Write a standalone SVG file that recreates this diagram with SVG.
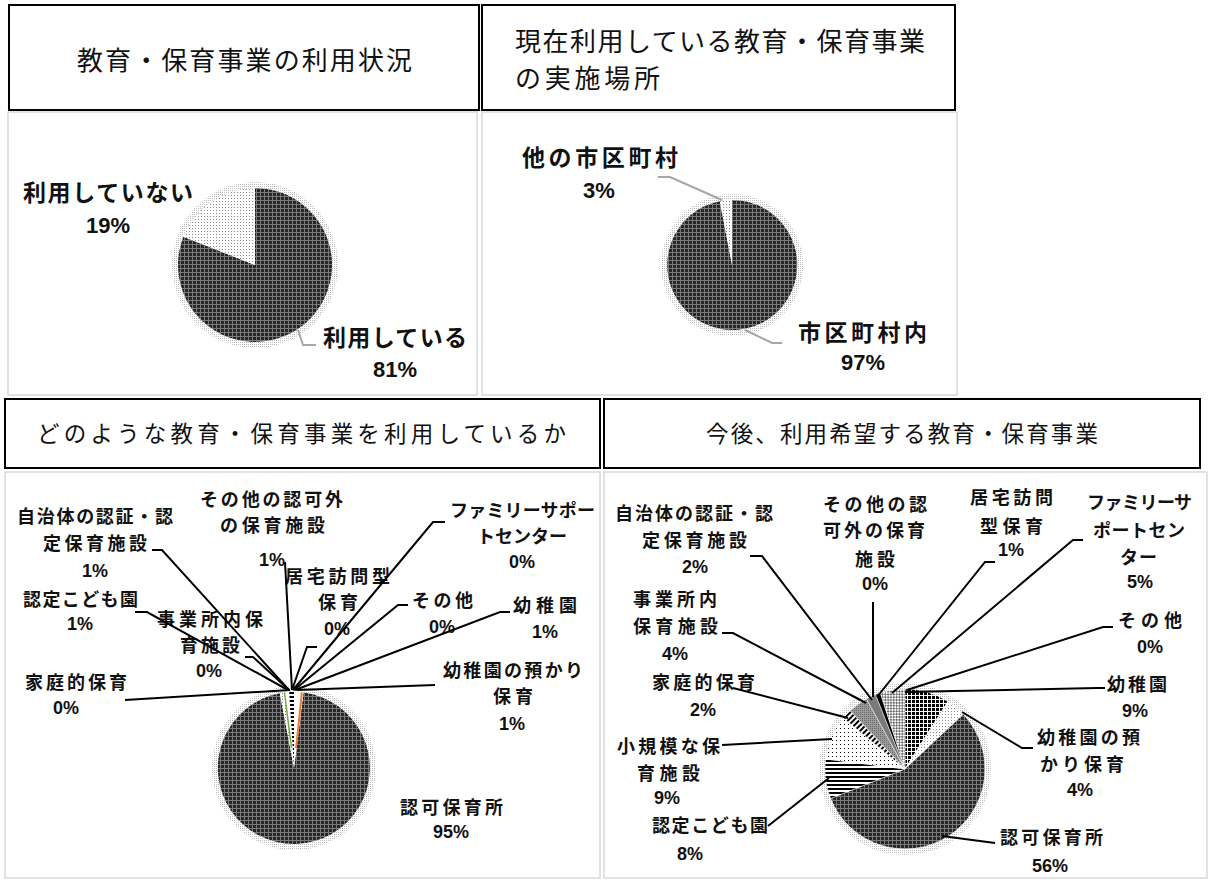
<svg xmlns="http://www.w3.org/2000/svg" width="1212" height="880" viewBox="0 0 1212 880">
<style>
.ttl{font-family:"Noto Sans CJK JP","Liberation Sans",sans-serif;font-size:26px;fill:#111}
.ttl2{font-family:"Noto Sans CJK JP","Liberation Sans",sans-serif;font-size:22.5px;fill:#111}
.lt{font-family:"Noto Sans CJK JP","Liberation Sans",sans-serif;font-size:23px;font-weight:bold;fill:#111}
.lb{font-family:"Noto Sans CJK JP","Liberation Sans",sans-serif;font-size:18px;font-weight:bold;fill:#111}
.pt{font-family:"Liberation Sans",sans-serif;font-size:22px;font-weight:bold;fill:#111;text-anchor:middle}
.pb{font-family:"Liberation Sans",sans-serif;font-size:18px;font-weight:bold;fill:#111;text-anchor:middle}
.tbox{fill:#fff;stroke:#000;stroke-width:2}
.cbox{fill:#fff;stroke:#d9d9d9;stroke-width:1.5}
.gl{fill:none;stroke:#a6a6a6;stroke-width:2}
.bl{fill:none;stroke:#000;stroke-width:2}
.sl{stroke:#fff;stroke-width:0.5}
</style>
<defs>
<pattern id="dk" width="4" height="4" patternUnits="userSpaceOnUse"><rect width="4" height="4" fill="#262626"/><rect width="4" height="1" fill="#7a7a7a"/><rect width="1" height="4" fill="#7a7a7a"/></pattern>
<pattern id="lt" width="3" height="3" patternUnits="userSpaceOnUse"><rect width="3" height="3" fill="#fff"/><rect width="1" height="1" fill="#8c8c8c"/></pattern>
<pattern id="halo" width="2" height="2" patternUnits="userSpaceOnUse"><rect width="1" height="1" fill="#bdbdbd"/></pattern>
<pattern id="chk" width="4" height="4" patternUnits="userSpaceOnUse"><rect width="4" height="4" fill="#fff"/><rect width="3" height="3" fill="#000"/></pattern>
<pattern id="hs" width="4" height="4" patternUnits="userSpaceOnUse"><rect width="4" height="4" fill="#fff"/><rect width="4" height="2" fill="#000"/></pattern>
<pattern id="sp" width="4" height="4" patternUnits="userSpaceOnUse"><rect width="4" height="4" fill="#fff"/><rect width="1" height="1" fill="#000"/></pattern>
<pattern id="dg" width="4" height="4" patternUnits="userSpaceOnUse" patternTransform="rotate(45)"><rect width="4" height="4" fill="#fff"/><rect width="2" height="4" fill="#000"/></pattern>
<pattern id="dm" width="4" height="4" patternUnits="userSpaceOnUse" patternTransform="rotate(45)"><rect width="4" height="4" fill="#fff"/><rect width="2" height="2" fill="#6e6e6e"/><rect x="2" y="2" width="2" height="2" fill="#6e6e6e"/></pattern>
<pattern id="gr" width="2" height="2" patternUnits="userSpaceOnUse"><rect width="2" height="2" fill="#9a9a9a"/><rect width="1" height="1" fill="#6a6a6a"/></pattern>
<pattern id="bwd" width="4" height="4" patternUnits="userSpaceOnUse"><rect width="4" height="4" fill="#fff"/><rect width="4" height="2" fill="#000"/></pattern>
</defs>

<!-- Panel 1 -->
<g id="panel1">
<rect class="cbox" x="8" y="112" width="469" height="283"/>
<rect class="tbox" x="9" y="5" width="470" height="105"/>
<text class="ttl" x="77" y="70" textLength="335" lengthAdjust="spacing">教育・保育事業の利用状況</text>
<circle cx="255" cy="265" r="83" fill="url(#halo)"/>
<path d="M255,265 L255,188 A77,77 0 1 1 183.4,236.7 Z" fill="url(#dk)"/>
<path d="M255,265 L183.4,236.7 A77,77 0 0 1 255,188 Z" fill="url(#lt)"/>
<text class="lt" x="23" y="201" textLength="170" lengthAdjust="spacing">利用していない</text>
<text class="pt" x="108" y="233">19%</text>
<text class="lt" x="323" y="346" textLength="144" lengthAdjust="spacing">利用している</text>
<text class="pt" x="395" y="377">81%</text>
</g>

<!-- Panel 2 -->
<g id="panel2">
<rect class="cbox" x="482" y="112" width="475" height="283"/>
<rect class="tbox" x="482" y="5" width="473" height="105"/>
<text class="ttl" x="515" y="51" textLength="410" lengthAdjust="spacing">現在利用している教育・保育事業</text>
<text class="ttl" x="515" y="88" textLength="145" lengthAdjust="spacing">の実施場所</text>
<circle cx="732" cy="265" r="71" fill="url(#halo)"/>
<path d="M732,265 L732,200 A65,65 0 1 1 719.8,201.2 Z" fill="url(#dk)"/>
<path d="M732,265 L719.8,201.2 A65,65 0 0 1 732,200 Z" fill="url(#lt)"/>
<text class="lt" x="522" y="166" textLength="156" lengthAdjust="spacing">他の市区町村</text>
<text class="pt" x="599" y="198">3%</text>
<text class="lt" x="798" y="341" textLength="129" lengthAdjust="spacing">市区町村内</text>
<text class="pt" x="863" y="370">97%</text>
</g>

<!-- Panel 3 -->
<g id="panel3">
<rect class="cbox" x="5" y="472" width="595" height="406"/>
<rect class="tbox" x="5" y="399" width="595" height="69"/>
<text class="ttl2" x="37" y="442" textLength="529" lengthAdjust="spacing">どのような教育・保育事業を利用しているか</text>
<circle cx="294" cy="768" r="82" fill="url(#halo)"/>
<path d="M294,768 L303.5,692.6 A76,76 0 1 1 279.8,693.3 Z" fill="url(#dk)"/>
<path d="M294,768 L279.8,693.3 A76,76 0 0 1 284.5,692.6 Z" fill="url(#lt)"/>
<path d="M294,768 L284.5,692.6 A76,76 0 0 1 289.2,692.1 Z" fill="#fff"/>
<path d="M294,768 L289.2,692.1 A76,76 0 0 1 294,692 Z" fill="url(#bwd)"/>
<path d="M294,768 L294,692 A76,76 0 0 1 303.5,692.6 Z" fill="#fff"/>
<line x1="284.5" y1="692.6" x2="291.5" y2="748" stroke="#70ad47" stroke-width="1.5"/>
<line x1="301.9" y1="692.4" x2="296.1" y2="748" stroke="#ed7d31" stroke-width="2"/>
</g>

<!-- Panel 4 -->
<g id="panel4">
<rect class="cbox" x="604" y="472" width="603" height="406"/>
<rect class="tbox" x="604" y="399" width="596" height="69"/>
<text class="ttl2" x="706" y="442" textLength="392" lengthAdjust="spacing">今後、利用希望する教育・保育事業</text>
<circle cx="905" cy="769" r="86" fill="url(#halo)"/>
<path class="sl" d="M905,769 L905,689 A80,80 0 0 1 947.9,701.5 Z" fill="url(#chk)"/>
<path class="sl" d="M905,769 L947.9,701.5 A80,80 0 0 1 963.3,714.2 Z" fill="url(#lt)"/>
<path class="sl" d="M905,769 L963.3,714.2 A80,80 0 1 1 830.6,798.4 Z" fill="url(#dk)"/>
<path class="sl" d="M905,769 L830.6,798.4 A80,80 0 0 1 825.6,759 Z" fill="url(#hs)"/>
<path class="sl" d="M905,769 L825.6,759 A80,80 0 0 1 843.4,718 Z" fill="url(#sp)"/>
<path class="sl" d="M905,769 L843.4,718 A80,80 0 0 1 850.2,710.7 Z" fill="url(#dg)"/>
<path class="sl" d="M905,769 L850.2,710.7 A80,80 0 0 1 866.5,698.9 Z" fill="url(#gr)"/>
<path class="sl" d="M905,769 L866.5,698.9 A80,80 0 0 1 875.6,694.6 Z" fill="#7a7a7a"/>
<path class="sl" d="M905,769 L875.6,694.6 A80,80 0 0 1 880.3,692.9 Z" fill="#000"/>
<path class="sl" d="M905,769 L880.3,692.9 A80,80 0 0 1 905,689 Z" fill="url(#dm)"/>
</g>

<!-- Labels panel 3 -->
<g id="labels3">
<text class="lb" x="17" y="523" textLength="156" lengthAdjust="spacing">自治体の認証・認</text>
<text class="lb" x="43" y="550" textLength="104" lengthAdjust="spacing">定保育施設</text>
<text class="pb" x="95" y="577">1%</text>
<text class="lb" x="200" y="506" textLength="143" lengthAdjust="spacing">その他の認可外</text>
<text class="lb" x="220" y="532" textLength="105" lengthAdjust="spacing">の保育施設</text>
<text class="pb" x="272" y="566">1%</text>
<text class="lb" x="450" y="517" textLength="145" lengthAdjust="spacing">ファミリーサポー</text>
<text class="lb" x="477" y="543" textLength="90" lengthAdjust="spacing">トセンター</text>
<text class="pb" x="522" y="568">0%</text>
<text class="lb" x="285" y="583" textLength="105" lengthAdjust="spacing">居宅訪問型</text>
<text class="lb" x="318" y="609" textLength="40" lengthAdjust="spacing">保育</text>
<text class="pb" x="337" y="635">0%</text>
<text class="lb" x="412" y="607" textLength="61" lengthAdjust="spacing">その他</text>
<text class="pb" x="442" y="633">0%</text>
<text class="lb" x="513" y="612" textLength="64" lengthAdjust="spacing">幼稚園</text>
<text class="pb" x="545" y="638">1%</text>
<text class="lb" x="23" y="606" textLength="115" lengthAdjust="spacing">認定こども園</text>
<text class="pb" x="80" y="630">1%</text>
<text class="lb" x="157" y="626" textLength="106" lengthAdjust="spacing">事業所内保</text>
<text class="lb" x="180" y="652" textLength="60" lengthAdjust="spacing">育施設</text>
<text class="pb" x="209" y="677">0%</text>
<text class="lb" x="25" y="689" textLength="102" lengthAdjust="spacing">家庭的保育</text>
<text class="pb" x="66" y="714">0%</text>
<text class="lb" x="443" y="677" textLength="140" lengthAdjust="spacing">幼稚園の預かり</text>
<text class="lb" x="493" y="703" textLength="40" lengthAdjust="spacing">保育</text>
<text class="pb" x="512" y="730">1%</text>
<text class="lb" x="400" y="814" textLength="103" lengthAdjust="spacing">認可保育所</text>
<text class="pb" x="451" y="838">95%</text>
</g>

<!-- Labels panel 4 -->
<g id="labels4">
<text class="lb" x="615" y="520" textLength="158" lengthAdjust="spacing">自治体の認証・認</text>
<text class="lb" x="642" y="547" textLength="105" lengthAdjust="spacing">定保育施設</text>
<text class="pb" x="695" y="573">2%</text>
<text class="lb" x="823" y="511" textLength="104" lengthAdjust="spacing">その他の認</text>
<text class="lb" x="823" y="537" textLength="102" lengthAdjust="spacing">可外の保育</text>
<text class="lb" x="855" y="566" textLength="40" lengthAdjust="spacing">施設</text>
<text class="pb" x="875" y="590">0%</text>
<text class="lb" x="970" y="504" textLength="83" lengthAdjust="spacing">居宅訪問</text>
<text class="lb" x="980" y="533" textLength="63" lengthAdjust="spacing">型保育</text>
<text class="pb" x="1011" y="556">1%</text>
<text class="lb" x="1087" y="509" textLength="105" lengthAdjust="spacing">ファミリーサ</text>
<text class="lb" x="1093" y="537" textLength="92" lengthAdjust="spacing">ポートセン</text>
<text class="lb" x="1120" y="564" textLength="37" lengthAdjust="spacing">ター</text>
<text class="pb" x="1140" y="588">5%</text>
<text class="lb" x="1118" y="627" textLength="64" lengthAdjust="spacing">その他</text>
<text class="pb" x="1150" y="653">0%</text>
<text class="lb" x="1107" y="691" textLength="60" lengthAdjust="spacing">幼稚園</text>
<text class="pb" x="1135" y="717">9%</text>
<text class="lb" x="633" y="606" textLength="84" lengthAdjust="spacing">事業所内</text>
<text class="lb" x="633" y="633" textLength="85" lengthAdjust="spacing">保育施設</text>
<text class="pb" x="675" y="660">4%</text>
<text class="lb" x="652" y="689" textLength="103" lengthAdjust="spacing">家庭的保育</text>
<text class="pb" x="703" y="716">2%</text>
<text class="lb" x="617" y="753" textLength="103" lengthAdjust="spacing">小規模な保</text>
<text class="lb" x="637" y="780" textLength="63" lengthAdjust="spacing">育施設</text>
<text class="pb" x="667" y="804">9%</text>
<text class="lb" x="652" y="832" textLength="116" lengthAdjust="spacing">認定こども園</text>
<text class="pb" x="690" y="860">8%</text>
<text class="lb" x="1037" y="744" textLength="103" lengthAdjust="spacing">幼稚園の預</text>
<text class="lb" x="1040" y="771" textLength="84" lengthAdjust="spacing">かり保育</text>
<text class="pb" x="1080" y="796">4%</text>
<text class="lb" x="1000" y="844" textLength="103" lengthAdjust="spacing">認可保育所</text>
<text class="pb" x="1050" y="872">56%</text>
</g>

<!-- Connectors -->
<g id="connectors">
<polyline class="gl" points="298,330 303,345 316,345"/>
<polyline class="gl" points="658,177 670,177 722,200"/>
<polyline class="gl" points="745,330 772,343 782,343"/>
<polyline class="bl" points="152,550 162,550 289,690"/>
<polyline class="bl" points="135,612 147,612 288,690"/>
<polyline class="bl" points="245,657 253,657 289,690"/>
<polyline class="bl" points="125,700 290,690"/>
<polyline class="bl" points="285,562 292,690"/>
<polyline class="bl" points="317,647 307,647 292,690"/>
<polyline class="bl" points="445,522 433,522 293,690"/>
<polyline class="bl" points="408,605 398,605 294,690"/>
<polyline class="bl" points="510,612 500,612 295,690"/>
<polyline class="bl" points="435,685 297,690"/>
<polyline class="bl" points="750,556 762,556 872,700"/>
<polyline class="bl" points="722,633 733,633 866,703"/>
<polyline class="bl" points="733,688 848,718"/>
<polyline class="bl" points="722,745 832,739"/>
<polyline class="bl" points="768,826 829,778"/>
<polyline class="bl" points="942,836 995,843"/>
<polyline class="bl" points="962,712 1022,748 1033,748"/>
<polyline class="bl" points="905,692 1097,688 1105,688"/>
<polyline class="bl" points="907,690 1103,627 1113,627"/>
<polyline class="bl" points="1083,540 1073,540 892,693"/>
<polyline class="bl" points="995,562 985,562 877,697"/>
<polyline class="bl" points="873,602 873,697"/>
</g>
</svg>
